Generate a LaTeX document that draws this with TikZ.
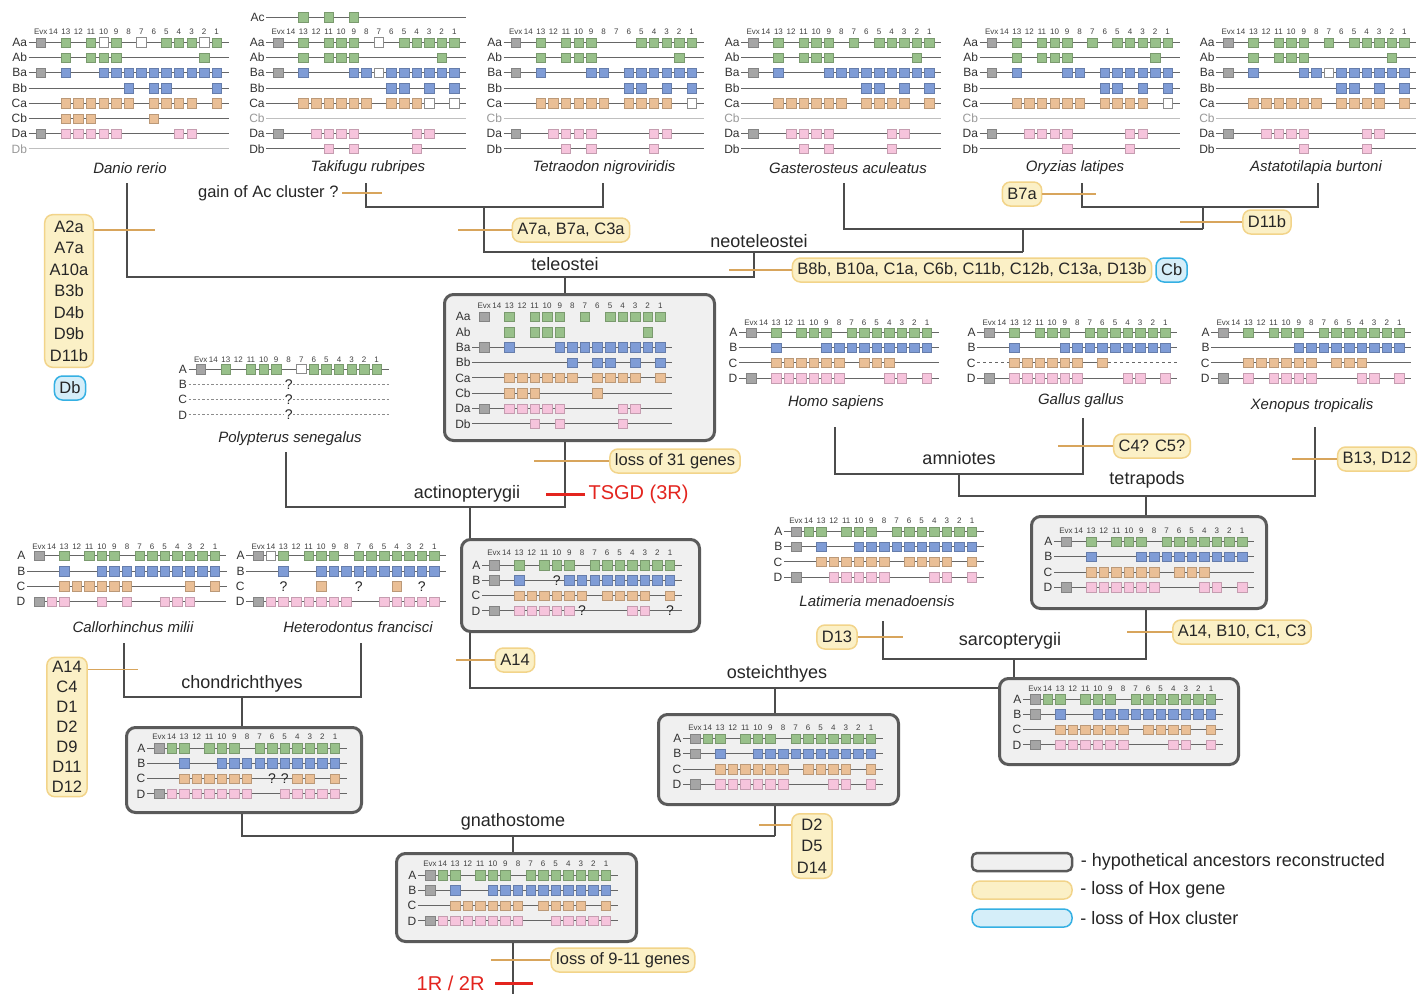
\documentclass[tikz,border=0pt]{standalone}
\usepackage{fontspec}
\setmainfont{Liberation Sans}
\usetikzlibrary{positioning,calc}

\definecolor{hoxA}{HTML}{98C08A}
\definecolor{hoxB}{HTML}{7F9CD6}
\definecolor{hoxC}{HTML}{EABF96}
\definecolor{hoxD}{HTML}{F6C4DC}
\definecolor{evx}{HTML}{A5A5A5}
\definecolor{lossfill}{HTML}{FBF0C6}
\definecolor{lossdraw}{HTML}{F2D48A}
\definecolor{clusfill}{HTML}{D5EEF9}
\definecolor{clusdraw}{HTML}{35B0E3}
\definecolor{tickcol}{HTML}{D8A55C}
\definecolor{tsgdred}{HTML}{E3241E}
\definecolor{ancfill}{HTML}{F0F0F0}
\definecolor{ancdraw}{HTML}{5A5A5A}

\def\colstep{12.57}

% header of a cluster: Evx 14 13 ... 1
\newcommand{\hoxhead}[2]{%
  \foreach \lab [count=\i from 0] in {Evx,14,13,12,11,10,9,8,7,6,5,4,3,2,1}
    \node[headnum] at ({#1+\i*\colstep},#2) {\lab};%
}

% one cluster row: [line style]{x of Evx}{y}{label}{colour}{genes}
\newcommand{\hoxrow}[6][rowline]{%
  \draw[#1] ({#2-12},#3) -- ({#2+188},#3);
  \node[rowlabel] at ({#2-12},#3) {#4};
  \foreach \g [count=\i from 0] in {#6} {
    \ifnum\i=0 \def\gc{evx}\else\def\gc{#5}\fi
    \node[gene \g=\gc] at ({#2+\i*\colstep},#3) {};
  }%
}

\begin{document}
\begin{tikzpicture}[x=1pt,y=-1pt,
  headnum/.style={font=\fontsize{8}{8}\selectfont, text=black!75, inner sep=0pt},
  rowlabel/.style={anchor=east, font=\fontsize{12}{12}\selectfont, text=black!80, inner sep=1.5pt},
  rowline/.style={draw=black!60, line width=1pt},
  gene x/.style={draw=#1!80!black, fill=#1, line width=0.5pt, minimum size=9.5pt, inner sep=0pt},
  gene o/.style={draw=black!45, fill=white, line width=0.6pt, minimum size=9.5pt, inner sep=0pt},
  gene n/.style={inner sep=0pt},
  gene q/.style={inner sep=0pt, label={[qmark]center:?}},
  gene w/.style={inner sep=0pt, label={[qmark, fill=white]center:?}},
  qmark/.style={font=\fontsize{14}{14}\selectfont, text=black!85, inner sep=0.5pt},
  species/.style={font=\fontsize{15}{15}\selectfont\itshape, text=black!85},
  clade/.style={font=\fontsize{18}{18}\selectfont, text=black!85},
  tree/.style={draw=black!70, line width=1.3pt},
  tick/.style={draw=tickcol, line width=1.3pt},
  lossbox/.style={draw=lossdraw, fill=lossfill, line width=1.5pt, rounded corners=8pt,
    font=\fontsize{16.5}{21.5}\selectfont, text=black!85, inner xsep=5pt, inner ysep=0pt,
    minimum height=24pt, align=center},
  clusbox/.style={lossbox, draw=clusdraw, fill=clusfill},
  ancbox/.style={draw=ancdraw, fill=ancfill, line width=3pt, rounded corners=9pt,
    anchor=north west, inner sep=0pt},
  redmark/.style={draw=tsgdred, line width=3pt},
  redtext/.style={font=\fontsize{20}{20}\selectfont, text=tsgdred},
  legtext/.style={font=\fontsize{18}{18}\selectfont, text=black!85}
]
\useasboundingbox (0,0) rectangle (1420,994);
\fill[white] (0,0) rectangle (1420,994);

% tips and junctions of the tree
\coordinate (tDanio) at (127,183);
\coordinate (tTaki) at (366,183);
\coordinate (tTetra) at (603,183);
\coordinate (tGaster) at (844,183);
\coordinate (tOry) at (1082,183);
\coordinate (tAstat) at (1318,183);
\coordinate (tPoly) at (286,452);
\coordinate (tHomo) at (835,427);
\coordinate (tGallus) at (1083,418);
\coordinate (tXen) at (1315,427);
\coordinate (tCallo) at (124,643);
\coordinate (tHetero) at (361,643);
\coordinate (tLati) at (883,621);
\coordinate (jTT) at (484,207);
\coordinate (jOA) at (1203,207);
\coordinate (jGOA) at (1023,229);
\coordinate (jNeo) at (754,252);
\coordinate (jTel) at (565,277);
\coordinate (jAct) at (470,507);
\coordinate (jAmn) at (959,474);
\coordinate (jTetra) at (1146,496);
\coordinate (jSarc) at (1014,659);
\coordinate (jOst) at (775,688);
\coordinate (jChon) at (242,697);
\coordinate (jGna) at (513,836);
\coordinate (root) at (513,994);

% ancestral clusters
\node[ancbox, minimum width=270pt, minimum height=146pt] (telanc) at (443,293) {};
\node[ancbox, minimum width=238pt, minimum height=92pt] (actanc) at (460,538) {};
\node[ancbox, minimum width=235pt, minimum height=92pt] (tetanc) at (1030,515) {};
\node[ancbox, minimum width=235pt, minimum height=85pt] (chonanc) at (125,726) {};
\node[ancbox, minimum width=240pt, minimum height=90pt] (ostanc) at (657,713) {};
\node[ancbox, minimum width=239pt, minimum height=86pt] (sarcanc) at (998,677) {};
\node[ancbox, minimum width=240pt, minimum height=88pt] (gnaanc) at (395,852) {};

% teleosts
\draw[tree] (tDanio) |- (jNeo |- jTel) -- (jNeo);
\draw[tree] (jTel) -- (telanc.north -| jTel);
\draw[tree] (tTaki) |- (tTetra |- jTT) -- (tTetra);
\draw[tree] (jTT) -- (jTT |- jNeo) -- (jGOA |- jNeo);
\draw[tree] (tGaster) |- (jOA |- jGOA);
\draw[tree] (jGOA) -- (jGOA |- jNeo);
\draw[tree] (tOry) |- (tAstat |- jOA) -- (tAstat);
\draw[tree] (jOA) -- (jOA |- jGOA);
% actinopterygii and osteichthyes
\draw[tree] (telanc.south -| jTel) |- (tPoly |- jAct) -- (tPoly);
\draw[tree] (jAct) -- (actanc.north -| jAct);
\draw[tree] (actanc.south -| jAct) |- (sarcanc.west |- jOst);
\draw[tree] (jOst) -- (ostanc.north -| jOst);
\draw[tree] (ostanc.south -| jOst) -- (jOst |- jGna);
% chondrichthyes
\draw[tree] (tCallo) |- (tHetero |- jChon) -- (tHetero);
\draw[tree] (jChon) -- (chonanc.north -| jChon);
\draw[tree] (chonanc.south -| jChon) |- (jOst |- jGna);
\draw[tree] (jGna) -- (gnaanc.north -| jGna);
\draw[tree] (gnaanc.south -| jGna) -- (root);
% sarcopterygii
\draw[tree] (tLati) |- (jTetra |- jSarc) -- (tetanc.south -| jTetra);
\draw[tree] (jSarc) -- (sarcanc.north -| jSarc);
\draw[tree] (tHomo) |- (tGallus |- jAmn) -- (tGallus);
\draw[tree] (jAmn) |- (tXen |- jTetra) -- (tXen);
\draw[tree] (jTetra) -- (tetanc.north -| jTetra);

% Danio rerio
\hoxhead{40.7}{31.7}
\hoxrow{40.7}{42.5}{Aa}{hoxA}{x,n,x,n,x,o,x,n,o,n,x,x,x,o,x}
\hoxrow{40.7}{57.7}{Ab}{hoxA}{n,n,x,n,x,x,x,n,n,n,n,n,n,x,n}
\hoxrow{40.7}{72.9}{Ba}{hoxB}{x,n,x,n,n,x,x,x,x,x,x,x,x,x,x}
\hoxrow{40.7}{88.1}{Bb}{hoxB}{n,n,n,n,n,n,n,x,n,x,x,n,n,n,x}
\hoxrow{40.7}{103.3}{Ca}{hoxC}{n,n,x,x,x,x,x,x,n,x,x,x,x,n,x}
\hoxrow{40.7}{118.5}{Cb}{hoxC}{n,n,x,x,x,n,n,n,n,x,n,n,n,n,n}
\hoxrow{40.7}{133.7}{Da}{hoxD}{x,n,x,x,x,x,x,n,n,n,n,x,x,n,n}
\hoxrow[rowline,black!25]{40.7}{148.9}{\color{black!40}Db}{hoxD}{n,n,n,n,n,n,n,n,n,n,n,n,n,n,n}

% Takifugu rubripes
\hoxrow{278.3}{17.3}{Ac}{hoxA}{n,n,x,n,x,n,x,n,n,n,n,n,n,n,n}
\hoxhead{278.3}{31.7}
\hoxrow{278.3}{42.5}{Aa}{hoxA}{x,n,x,n,x,x,x,n,o,n,x,x,x,x,x}
\hoxrow{278.3}{57.7}{Ab}{hoxA}{n,n,x,n,x,x,x,n,n,n,n,n,n,x,n}
\hoxrow{278.3}{72.9}{Ba}{hoxB}{x,n,x,n,n,n,x,x,o,x,x,x,x,x,x}
\hoxrow{278.3}{88.1}{Bb}{hoxB}{n,n,n,n,n,n,n,n,n,x,x,n,x,n,x}
\hoxrow{278.3}{103.3}{Ca}{hoxC}{n,n,x,x,x,x,x,x,n,x,x,x,o,n,o}
\hoxrow[rowline,black!25]{278.3}{118.5}{\color{black!40}Cb}{hoxC}{n,n,n,n,n,n,n,n,n,n,n,n,n,n,n}
\hoxrow{278.3}{133.7}{Da}{hoxD}{x,n,n,x,x,x,x,n,n,n,n,x,x,n,n}
\hoxrow{278.3}{148.9}{Db}{hoxD}{n,n,n,n,x,n,x,n,n,n,n,x,n,n,n}

% Tetraodon nigroviridis
\hoxhead{515.7}{31.7}
\hoxrow{515.7}{42.5}{Aa}{hoxA}{x,n,x,n,x,x,x,n,n,n,x,x,x,x,x}
\hoxrow{515.7}{57.7}{Ab}{hoxA}{n,n,x,n,x,x,x,n,n,n,n,n,n,x,n}
\hoxrow{515.7}{72.9}{Ba}{hoxB}{x,n,x,n,n,n,x,x,n,x,x,x,x,x,x}
\hoxrow{515.7}{88.1}{Bb}{hoxB}{n,n,n,n,n,n,n,n,n,x,x,n,x,n,x}
\hoxrow{515.7}{103.3}{Ca}{hoxC}{n,n,x,x,x,x,x,x,n,x,x,x,x,n,o}
\hoxrow[rowline,black!25]{515.7}{118.5}{\color{black!40}Cb}{hoxC}{n,n,n,n,n,n,n,n,n,n,n,n,n,n,n}
\hoxrow{515.7}{133.7}{Da}{hoxD}{x,n,n,x,x,x,x,n,n,n,n,x,x,n,n}
\hoxrow{515.7}{148.9}{Db}{hoxD}{n,n,n,n,x,n,x,n,n,n,n,x,n,n,n}

% Gasterosteus aculeatus
\hoxhead{753.3}{31.7}
\hoxrow{753.3}{42.5}{Aa}{hoxA}{x,n,x,n,x,x,x,n,x,n,x,x,x,x,x}
\hoxrow{753.3}{57.7}{Ab}{hoxA}{n,n,x,n,x,x,x,n,n,n,n,n,n,x,n}
\hoxrow{753.3}{72.9}{Ba}{hoxB}{x,n,x,n,n,n,x,x,x,x,x,x,x,x,x}
\hoxrow{753.3}{88.1}{Bb}{hoxB}{n,n,n,n,n,n,n,n,n,x,x,n,x,n,x}
\hoxrow{753.3}{103.3}{Ca}{hoxC}{n,n,x,x,x,x,x,x,n,x,x,x,x,n,x}
\hoxrow[rowline,black!25]{753.3}{118.5}{\color{black!40}Cb}{hoxC}{n,n,n,n,n,n,n,n,n,n,n,n,n,n,n}
\hoxrow{753.3}{133.7}{Da}{hoxD}{x,n,n,x,x,x,x,n,n,n,n,x,x,n,n}
\hoxrow{753.3}{148.9}{Db}{hoxD}{n,n,n,n,x,n,x,n,n,n,n,x,n,n,n}

% Oryzias latipes
\hoxhead{991.7}{31.7}
\hoxrow{991.7}{42.5}{Aa}{hoxA}{x,n,x,n,x,x,x,n,x,n,x,x,x,x,x}
\hoxrow{991.7}{57.7}{Ab}{hoxA}{n,n,x,n,x,x,x,n,n,n,n,n,n,x,n}
\hoxrow{991.7}{72.9}{Ba}{hoxB}{x,n,x,n,n,n,x,x,n,x,x,x,x,x,x}
\hoxrow{991.7}{88.1}{Bb}{hoxB}{n,n,n,n,n,n,n,n,n,x,x,n,x,n,x}
\hoxrow{991.7}{103.3}{Ca}{hoxC}{n,n,x,x,x,x,x,x,n,x,x,x,x,n,o}
\hoxrow[rowline,black!25]{991.7}{118.5}{\color{black!40}Cb}{hoxC}{n,n,n,n,n,n,n,n,n,n,n,n,n,n,n}
\hoxrow{991.7}{133.7}{Da}{hoxD}{x,n,n,x,x,x,x,n,n,n,n,x,x,n,n}
\hoxrow{991.7}{148.9}{Db}{hoxD}{n,n,n,n,n,n,x,n,n,n,n,x,n,n,n}

% Astatotilapia burtoni
\hoxhead{1228.3}{31.7}
\hoxrow{1228.3}{42.5}{Aa}{hoxA}{x,n,x,n,x,x,x,n,x,n,x,x,x,x,x}
\hoxrow{1228.3}{57.7}{Ab}{hoxA}{n,n,x,n,x,x,x,n,n,n,n,n,n,x,n}
\hoxrow{1228.3}{72.9}{Ba}{hoxB}{x,n,x,n,n,n,x,x,o,x,x,x,x,x,x}
\hoxrow{1228.3}{88.1}{Bb}{hoxB}{n,n,n,n,n,n,n,n,n,x,x,n,x,n,x}
\hoxrow{1228.3}{103.3}{Ca}{hoxC}{n,n,x,x,x,x,x,x,n,x,x,x,x,n,x}
\hoxrow[rowline,black!25]{1228.3}{118.5}{\color{black!40}Cb}{hoxC}{n,n,n,n,n,n,n,n,n,n,n,n,n,n,n}
\hoxrow{1228.3}{133.7}{Da}{hoxD}{x,n,n,x,x,x,x,n,n,n,n,x,x,n,n}
\hoxrow{1228.3}{148.9}{Db}{hoxD}{n,n,n,n,n,n,x,n,n,n,n,x,n,n,n}

% teleost ancestor
\hoxhead{484.3}{305.7}
\hoxrow[draw=none]{484.3}{316.7}{Aa}{hoxA}{x,n,x,n,x,x,x,n,x,n,x,x,x,x,x}
\hoxrow[draw=none]{484.3}{332.0}{Ab}{hoxA}{n,n,x,n,x,x,x,n,n,n,n,n,n,x,n}
\hoxrow{484.3}{347.3}{Ba}{hoxB}{x,n,x,n,n,n,x,x,x,x,x,x,x,x,x}
\hoxrow{484.3}{362.6}{Bb}{hoxB}{n,n,n,n,n,n,n,x,n,x,x,n,x,n,x}
\hoxrow{484.3}{377.9}{Ca}{hoxC}{n,n,x,x,x,x,x,x,n,x,x,x,x,n,x}
\hoxrow{484.3}{393.2}{Cb}{hoxC}{n,n,x,x,x,n,n,n,n,x,n,n,n,n,n}
\hoxrow{484.3}{408.5}{Da}{hoxD}{x,n,x,x,x,x,x,n,n,n,n,x,x,n,n}
\hoxrow{484.3}{423.8}{Db}{hoxD}{n,n,n,n,x,n,x,n,n,n,n,x,n,n,n}

% Polypterus senegalus
\hoxhead{200.7}{359.5}
\hoxrow{200.7}{369.0}{A}{hoxA}{x,n,x,n,x,x,x,n,o,x,x,x,x,x,x}
\hoxrow[rowline,black!45,dash pattern=on 2.5pt off 2pt]{200.7}{384.3}{B}{hoxB}{n,n,n,n,n,n,n,w,n,n,n,n,n,n,n}
\hoxrow[rowline,black!45,dash pattern=on 2.5pt off 2pt]{200.7}{399.6}{C}{hoxC}{n,n,n,n,n,n,n,w,n,n,n,n,n,n,n}
\hoxrow[rowline,black!45,dash pattern=on 2.5pt off 2pt]{200.7}{414.9}{D}{hoxD}{n,n,n,n,n,n,n,w,n,n,n,n,n,n,n}

% Homo sapiens
\hoxhead{751}{322.3}
\hoxrow{751}{332.7}{A}{hoxA}{x,n,x,n,x,x,x,n,x,x,x,x,x,x,x}
\hoxrow{751}{347.8}{B}{hoxB}{n,n,x,n,n,n,x,x,x,x,x,x,x,x,x}
\hoxrow{751}{362.9}{C}{hoxC}{n,n,x,x,x,x,x,x,n,x,x,x,n,n,n}
\hoxrow{751}{378.0}{D}{hoxD}{x,n,x,x,x,x,x,x,n,n,n,x,x,n,x}

% Gallus gallus
\hoxhead{989.3}{322.3}
\hoxrow{989.3}{332.7}{A}{hoxA}{x,n,x,n,x,x,x,n,x,x,x,x,x,x,x}
\hoxrow{989.3}{347.8}{B}{hoxB}{n,n,x,n,n,n,x,x,x,x,x,x,x,x,x}
\draw[rowline, dashed] (977.3,362.9) -- (1014.4,362.9);
\draw[rowline] (1014.4,362.9) -- (1102.4,362.9);
\draw[rowline, dashed] (1102.4,362.9) -- (1177.3,362.9);
\hoxrow[draw=none]{989.3}{362.9}{C}{hoxC}{n,n,x,x,x,x,x,x,n,x,n,n,n,n,n}
\hoxrow{989.3}{378.0}{D}{hoxD}{x,n,x,x,x,x,x,x,n,n,n,x,x,n,x}

% Xenopus tropicalis
\hoxhead{1223.3}{322.3}
\hoxrow{1223.3}{332.7}{A}{hoxA}{x,n,x,n,x,x,x,n,x,x,x,x,x,x,x}
\hoxrow{1223.3}{347.8}{B}{hoxB}{n,n,n,n,n,n,x,x,x,x,x,x,x,x,x}
\hoxrow{1223.3}{362.9}{C}{hoxC}{n,n,x,x,x,x,x,x,n,x,x,x,n,n,n}
\hoxrow{1223.3}{378.0}{D}{hoxD}{x,n,x,n,x,x,x,x,n,n,n,x,x,n,x}

% Callorhinchus milii
\hoxhead{39}{546.7}
\draw[rowline] (39,555.7) -- (226,555.7);
\hoxrow[draw=none]{39}{555.7}{A}{hoxA}{x,n,x,n,x,x,x,n,x,x,x,x,x,x,x}
\hoxrow{39}{571.0}{B}{hoxB}{n,n,x,n,n,x,x,x,x,x,x,x,x,x,x}
\hoxrow{39}{586.3}{C}{hoxC}{n,n,x,x,x,x,x,x,n,n,n,n,x,n,x}
\draw[rowline] (39,601.6) -- (226,601.6);
\hoxrow[draw=none]{39}{601.6}{D}{hoxD}{x,x,x,n,n,x,n,x,n,n,x,x,x,n,n}

% Heterodontus francisci
\hoxhead{258.3}{546.7}
\hoxrow{258.3}{555.7}{A}{hoxA}{x,o,x,n,x,x,x,n,x,x,x,x,x,x,x}
\hoxrow{258.3}{571.0}{B}{hoxB}{n,n,x,n,n,x,x,x,x,x,x,x,x,x,x}
\hoxrow[draw=none]{258.3}{586.3}{C}{hoxC}{n,n,q,n,n,x,n,n,q,n,n,x,n,q,n}
\hoxrow{258.3}{601.6}{D}{hoxD}{x,x,x,x,x,x,x,x,n,n,x,x,x,x,x}

% actinopterygii ancestor
\hoxhead{494}{553}
\hoxrow{494}{565}{A}{hoxA}{x,n,x,n,x,x,x,n,x,x,x,x,x,x,x}
\hoxrow{494}{580.3}{B}{hoxB}{x,n,x,n,n,q,x,x,x,x,x,x,x,x,x}
\hoxrow{494}{595.6}{C}{hoxC}{n,n,x,x,x,x,x,x,n,x,x,x,x,n,x}
\hoxrow{494}{610.9}{D}{hoxD}{x,n,x,x,x,x,x,q,n,n,n,x,x,n,q}

% Latimeria menadoensis
\hoxhead{796}{521}
\hoxrow{796}{531.5}{A}{hoxA}{x,x,x,n,x,x,x,n,x,x,x,x,x,x,x}
\hoxrow{796}{546.7}{B}{hoxB}{x,n,x,n,n,x,x,x,x,x,x,x,x,x,x}
\hoxrow{796}{561.9}{C}{hoxC}{n,n,x,x,x,x,x,x,n,x,x,x,x,n,x}
\hoxrow{796}{577.1}{D}{hoxD}{x,n,n,x,x,x,x,x,n,n,n,x,x,n,x}

% tetrapod ancestor
\hoxhead{1066}{531}
\hoxrow{1066}{541.5}{A}{hoxA}{x,n,x,n,x,x,x,n,x,x,x,x,x,x,x}
\hoxrow{1066}{556.8}{B}{hoxB}{n,n,x,n,n,n,x,x,x,x,x,x,x,x,x}
\hoxrow{1066}{572.1}{C}{hoxC}{n,n,x,x,x,x,x,x,n,x,x,x,n,n,n}
\hoxrow{1066}{587.4}{D}{hoxD}{x,n,x,x,x,x,x,x,n,n,n,x,x,n,x}

% chondrichthyes ancestor
\hoxhead{159}{737}
\hoxrow{159}{748}{A}{hoxA}{x,x,x,n,x,x,x,n,x,x,x,x,x,x,x}
\hoxrow{159}{763.3}{B}{hoxB}{n,n,x,n,n,x,x,x,x,x,x,x,x,x,x}
\hoxrow{159}{778.6}{C}{hoxC}{n,n,x,x,x,x,x,x,n,q,q,x,x,n,x}
\hoxrow{159}{793.9}{D}{hoxD}{x,x,x,x,x,x,x,x,n,n,x,x,x,x,x}

% osteichthyes ancestor
\hoxhead{695}{728}
\hoxrow{695}{738.5}{A}{hoxA}{x,x,x,n,x,x,x,n,x,x,x,x,x,x,x}
\hoxrow{695}{753.8}{B}{hoxB}{x,n,x,n,n,x,x,x,x,x,x,x,x,x,x}
\hoxrow{695}{769.1}{C}{hoxC}{n,n,x,x,x,x,x,x,n,x,x,x,x,n,x}
\hoxrow{695}{784.4}{D}{hoxD}{x,n,x,x,x,x,x,x,n,n,n,x,x,n,x}

% sarcopterygii ancestor
\hoxhead{1035}{688.5}
\hoxrow{1035}{699}{A}{hoxA}{x,x,x,n,x,x,x,n,x,x,x,x,x,x,x}
\hoxrow{1035}{714.3}{B}{hoxB}{x,n,x,n,n,x,x,x,x,x,x,x,x,x,x}
\hoxrow{1035}{729.6}{C}{hoxC}{n,n,x,x,x,x,x,x,n,x,x,x,x,n,x}
\hoxrow{1035}{744.9}{D}{hoxD}{x,n,x,x,x,x,x,x,n,n,n,x,x,n,x}

% gnathostome ancestor
\hoxhead{430}{864}
\hoxrow{430}{875}{A}{hoxA}{x,x,x,n,x,x,x,n,x,x,x,x,x,x,x}
\hoxrow{430}{890.3}{B}{hoxB}{x,n,x,n,n,x,x,x,x,x,x,x,x,x,x}
\hoxrow{430}{905.6}{C}{hoxC}{n,n,x,x,x,x,x,x,n,x,x,x,x,n,x}
\hoxrow{430}{920.9}{D}{hoxD}{x,x,x,x,x,x,x,x,n,n,x,x,x,x,x}

% species names
\node[species] (danio) at (130,168) {Danio rerio};
\node[species] (takifugu) at (368,168) {Takifugu rubripes};
\node[species] (tetraodon) at (604,168) {Tetraodon nigroviridis};
\node[species] (gasterosteus) at (848,168) {Gasterosteus aculeatus};
\node[species] (oryzias) at (1075,168) {Oryzias latipes};
\node[species] (astatotilapia) at (1316,168) {Astatotilapia burtoni};
\node[species] (polypterus) at (290,439) {Polypterus senegalus};
\node[species] (homo) at (836,403) {Homo sapiens};
\node[species] (gallus) at (1081,401) {Gallus gallus};
\node[species] (xenopus) at (1312,406) {Xenopus tropicalis};
\node[species] (callorhinchus) at (133,627) {Callorhinchus milii};
\node[species] (heterodontus) at (358,627) {Heterodontus francisci};
\node[species] (latimeria) at (877,601) {Latimeria menadoensis};

% clade names
\node[clade] (lblTel) at (565,264) {teleostei};
\node[clade] (lblNeo) at (759,241) {neoteleostei};
\node[clade] (lblAct) at (467,494) {actinopterygii};
\node[clade] (lblAmn) at (959,458) {amniotes};
\node[clade] (lblTet) at (1147,480) {tetrapods};
\node[clade] (lblSarc) at (1010,641) {sarcopterygii};
\node[clade] (lblOst) at (777,674) {osteichthyes};
\node[clade] (lblChon) at (242,684) {chondrichthyes};
\node[clade] (lblGna) at (513,822) {gnathostome};

% gene and cluster losses
\node[lossbox, inner ysep=6pt] (lossDanio) at (69,291) {A2a\\A7a\\A10a\\B3b\\D4b\\D9b\\D11b};
\node[clusbox] (clusDb) at (70,388) {Db};
\node[font=\fontsize{16.5}{16.5}\selectfont, text=black!85, anchor=east] (gainAc) at (342,193) {gain of Ac cluster ?};
\node[lossbox] (lossA7) at (571,230) {A7a, B7a, C3a};
\node[lossbox] (lossB7) at (1022,194) {B7a};
\node[lossbox] (lossD11) at (1267,222) {D11b};
\node[lossbox] (lossNeo) at (972,270) {B8b, B10a, C1a, C6b, C11b, C12b, C13a, D13b};
\node[clusbox, right=3pt of lossNeo] (clusCb) {Cb};
\node[lossbox] (loss31) at (675,461) {loss of 31 genes};
\node[lossbox] (lossA14) at (515,660) {A14};
\node[lossbox, inner ysep=4pt, font=\fontsize{16.5}{20}\selectfont] (lossChon) at (67,727) {A14\\C4\\D1\\D2\\D9\\D11\\D12};
\node[lossbox] (lossD13) at (837,637) {D13};
\node[lossbox] (lossTet) at (1242,632) {A14, B10, C1, C3};
\node[lossbox] (lossC4) at (1152,446) {C4? C5?};
\node[lossbox] (lossB13) at (1377,459) {B13, D12};
\node[lossbox, inner ysep=5pt] (lossD2) at (812,846) {D2\\D5\\D14};
\node[lossbox] (loss911) at (623,960) {loss of 9-11 genes};

\draw[tick] ([yshift=-16pt]lossDanio.north east) -- ++(61,0);
\draw[tick] (gainAc.east) -- ++(40,0);
\draw[tick] (lossA7.west) -- ++(-54,0);
\draw[tick] (lossB7.east) -- ++(54,0);
\draw[tick] (lossD11.west) -- ++(-62,0);
\draw[tick] (lossNeo.west) -- ++(-63,0);
\draw[tick] (loss31.west) -- ++(-75,0);
\draw[tick] (lossA14.west) -- ++(-39,0);
\draw[tick] ([yshift=-13pt]lossChon.north east) -- ++(50,0);
\draw[tick] (lossD13.east) -- ++(45,0);
\draw[tick] (lossTet.west) -- ++(-45,0);
\draw[tick] (lossC4.west) -- ++(-55,0);
\draw[tick] (lossB13.west) -- ++(-45,0);
\draw[tick] ([yshift=-12pt]lossD2.north west) -- ++(-32,0);
\draw[tick] (loss911.west) -- ++(-59,0);

% genome duplications
\node[redtext, anchor=west] (tsgd) at (585,494) {TSGD (3R)};
\draw[redmark] (tsgd.west) -- ++(-39,0);
\node[redtext, anchor=east] (onetwo) at (488,983) {1R / 2R};
\draw[redmark] ([xshift=7pt]onetwo.east) -- ++(38,0);

% legend
\node[ancbox, anchor=center, line width=2.5pt, rounded corners=5pt, minimum width=100pt, minimum height=18pt] (legAnc) at (1022,862) {};
\node[lossbox, minimum width=100pt, minimum height=18pt] (legGene) at (1022,890) {};
\node[clusbox, minimum width=100pt, minimum height=18pt] (legClus) at (1022,918) {};
\node[legtext, right=4pt of legAnc] (txtAnc) {- hypothetical ancestors reconstructed};
\node[legtext, right=4pt of legGene] (txtGene) {- loss of Hox gene};
\node[legtext, right=4pt of legClus] (txtClus) {- loss of Hox cluster};
\end{tikzpicture}
\end{document}
